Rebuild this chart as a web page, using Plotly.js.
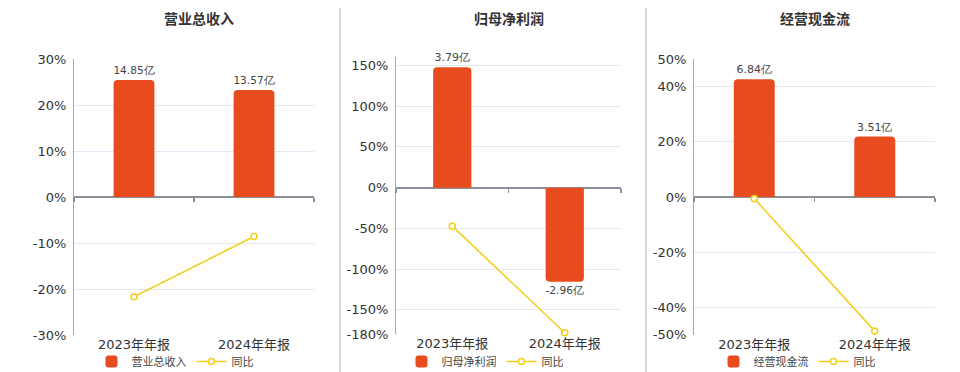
<!DOCTYPE html>
<html>
<head>
<meta charset="utf-8">
<script src="https://cdn.plot.ly/plotly-3.0.1.min.js"></script>
<style>html,body{margin:0;padding:0;background:#fff;}#chart{width:960px;height:372px;}</style>
</head>
<body>
<div id="chart"></div>
<script>
// ---- data ----
const periods = ['2023年年报', '2024年年报'];
const panelTitles = ['营业总收入', '归母净利润', '经营现金流'];
const revenue = [14.85, 13.57];          // 亿
const revenueYoY = [-21.7, -8.6];        // %
const netProfit = [3.79, -2.96];         // 亿
const netProfitYoY = [-47.3, -178.1];    // %
const cashFlow = [6.84, 3.51];           // 亿
const cashFlowYoY = [-0.6, -48.7];       // %
const yoyName = '同比';

// percent axis ticks per panel
const pctTicks1 = [-30, -20, -10, 0, 10, 20, 30];
const pctTicks2 = [-180, -150, -100, -50, 0, 50, 100, 150, 160];
const pctTicks3 = [-50, -40, -20, 0, 20, 40, 50];

const barColor = '#E84C1E';
const lineColor = '#F3CF1F';
const font = '"Noto Sans CJK SC", "DejaVu Sans", sans-serif';

const panels = [
  {bars: revenue, yoy: revenueYoY, pctRange: [-30, 30], barRange: [-17.5, 17.5], ticks: pctTicks1,
   xd: [74/960, 314/960], yd: [1-335/372, 1-59/372], legX: 175/960},
  {bars: netProfit, yoy: netProfitYoY, pctRange: [-180, 160], barRange: [-180/39, 160/39], ticks: pctTicks2,
   xd: [396/960, 621/960], yd: [1-334.3/372, 1-57.3/372], legX: 485/960},
  {bars: cashFlow, yoy: cashFlowYoY, pctRange: [-50, 50], barRange: [-8, 8], ticks: pctTicks3,
   xd: [694/960, 935/960], yd: [1-334.7/372, 1-59.3/372], legX: 797/960}
];

const data = [];
const layout = {
  width: 960, height: 372,
  margin: {l: 0, r: 0, t: 0, b: 0, autoexpand: false},
  paper_bgcolor: '#fff', plot_bgcolor: 'rgba(0,0,0,0)',
  font: {family: font, color: '#333', size: 12},
  showlegend: true,
  annotations: [], shapes: []
};

panels.forEach((p, i) => {
  const n = i + 1;
  const xs = n === 1 ? '' : String(n);
  const ybar = n === 1 ? '' : String(n);
  const ypct = String(n + 3);
  const xtick = String(n + 3);
  const legendId = n === 1 ? 'legend' : 'legend' + n;

  data.push({
    type: 'bar', x: periods, y: p.bars, name: panelTitles[i],
    xaxis: 'x' + xs, yaxis: 'y' + ybar, legend: legendId,
    marker: {color: barColor, cornerradius: 4},
    width: 0.34,
    text: p.bars.map(v => v.toFixed(2) + '亿'),
    textposition: 'outside', cliponaxis: false,
    textfont: {family: '"DejaVu Sans", sans-serif', size: 11, color: '#444'},
    hoverinfo: 'skip'
  });
  data.push({
    type: 'scatter', mode: 'lines+markers', x: periods, y: p.yoy, name: yoyName,
    xaxis: 'x' + xs, yaxis: 'y' + ypct, legend: legendId,
    line: {color: lineColor, width: 1.6},
    marker: {symbol: 'circle', size: 6, color: '#fff', line: {color: lineColor, width: 1.6}},
    cliponaxis: false, hoverinfo: 'skip'
  });
  // invisible carrier so the zero-line tick axis is drawn
  data.push({
    type: 'scatter', mode: 'markers', x: periods, y: [null, null],
    xaxis: 'x' + xtick, yaxis: 'y' + ybar, showlegend: false, hoverinfo: 'skip'
  });

  layout['xaxis' + xs] = {
    domain: p.xd, anchor: 'y' + ybar, type: 'category', range: [-0.5, 1.5],
    showgrid: false, zeroline: false, showline: false, ticks: '',
    tickfont: {family: '"DejaVu Sans", "Noto Sans CJK SC", sans-serif', size: 13, color: '#333'},
    fixedrange: true
  };
  const zeroPos = p.yd[0] + (0 - p.pctRange[0]) / (p.pctRange[1] - p.pctRange[0]) * (p.yd[1] - p.yd[0]);
  layout['xaxis' + xtick] = {
    overlaying: 'x' + xs, anchor: 'free', position: zeroPos, side: 'bottom',
    type: 'category', range: [-0.5, 1.5], tickson: 'boundaries',
    ticks: 'outside', ticklen: 4, tickwidth: 1.5, tickcolor: '#8A8F99',
    showticklabels: false, showgrid: false, zeroline: false, showline: false,
    fixedrange: true
  };
  layout['yaxis' + ybar] = {
    domain: p.yd, anchor: 'x' + xs, range: p.barRange,
    visible: false, showgrid: false, zeroline: false, fixedrange: true
  };
  layout['yaxis' + ypct] = {
    overlaying: 'y' + ybar, anchor: 'x' + xs, side: 'left', range: p.pctRange,
    tickmode: 'array', tickvals: p.ticks,
    ticktext: p.ticks.map(v => (n === 2 && v === 160) ? '' : v + '%'),
    showgrid: true, gridcolor: '#E4E8F4', gridwidth: 1,
    zeroline: true, zerolinecolor: '#8A8F99', zerolinewidth: 2,
    showline: true, linecolor: '#A8A8A8', linewidth: 1,
    ticks: '', ticklabelstandoff: 4,
    tickfont: {family: '"DejaVu Sans", sans-serif', size: 13, color: '#333'},
    fixedrange: true
  };

  layout[legendId] = {
    orientation: 'h', x: p.legX, xanchor: 'center',
    yref: 'container', y: 1 - 347/372, yanchor: 'top',
    font: {family: font, size: 11, color: '#444'},
    itemwidth: 30, tracegroupgap: 0, bgcolor: 'rgba(0,0,0,0)', itemclick: false
  };

  layout.annotations.push({
    xref: 'paper', yref: 'paper', x: (p.xd[0] + p.xd[1]) / 2 + (i === 0 ? 0.005 : 0), y: 1 - 18/372,
    xanchor: 'center', yanchor: 'middle', showarrow: false,
    text: '<b>' + panelTitles[i] + '</b>',
    font: {family: font, size: 14, color: '#333'}
  });
});

// panel separators
[340/960, 646/960].forEach(x => {
  layout.shapes.push({type: 'line', xref: 'paper', yref: 'paper', x0: x, x1: x, y0: 0, y1: 1 - 8/372,
    line: {color: '#D8D8D8', width: 2}});
});

Plotly.newPlot('chart', data, layout, {displayModeBar: false, staticPlot: true});
</script>
</body>
</html>
